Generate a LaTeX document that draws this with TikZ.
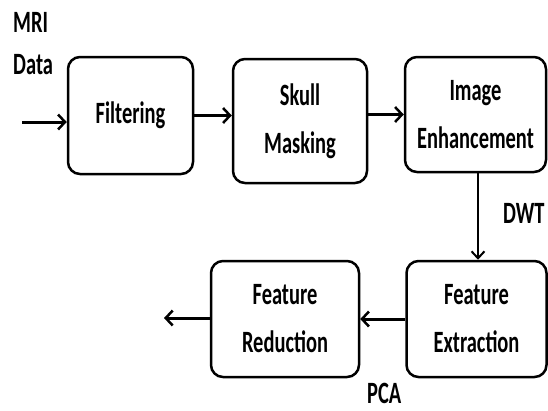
\documentclass[tikz,border=0pt]{standalone}
\usepackage{fontspec}
\setmainfont{Carlito}[FakeStretch=0.66]
\usetikzlibrary{arrows.meta}
\begin{document}
\begin{tikzpicture}[x=1pt,y=-1pt,
  txt/.style={font=\bfseries\fontsize{31}{48}\selectfont},
  stage/.style={txt, draw, line width=2.5pt, rounded corners=12pt, align=center, inner sep=0pt},
  flow/.style={line width=3pt, -{Straight Barb[length=7pt,width=15pt,line width=2.5pt]}},
  thinflow/.style={line width=2pt, -{Straight Barb[length=7pt,width=13pt,line width=2pt]}},
  lbl/.style={txt, anchor=base west, inner sep=0pt}]
\useasboundingbox (0,0) rectangle (548,410);
\node[stage, minimum width=125pt, minimum height=117pt] (filt) at (130.5,115.5) {Filtering};
\node[stage, minimum width=134pt, minimum height=124pt] (skull) at (300,121) {Skull\\Masking};
\node[stage, minimum width=141pt, minimum height=115pt] (img) at (475.5,114.5) {Image\\Enhancement};
\node[stage, minimum width=140pt, minimum height=116pt] (ext) at (476.5,319) {Feature\\Extraction};
\node[stage, minimum width=148pt, minimum height=116pt] (red) at (285,319) {Feature\\Reduction};
\node[lbl] (mri) at (13,32) {MRI};
\node[lbl] (data) at (13,74) {Data};
\node[lbl] (dwt) at (503,223) {DWT};
\node[lbl] (pca) at (367,403) {PCA};
\coordinate (in) at (22,122);
\coordinate (out) at (164,318);
\draw[flow] (in) -- (filt.west |- in);
\draw[flow] (filt.east) -- (skull.west |- filt.east);
\draw[flow] (skull.east |- img.west) -- (img.west);
\draw[thinflow] (img.south -| 478,0) -- (ext.north -| 478,0);
\draw[flow] (ext.west) -- (red.east);
\draw[flow] (red.west |- out) -- (out);
\end{tikzpicture}
\end{document}
